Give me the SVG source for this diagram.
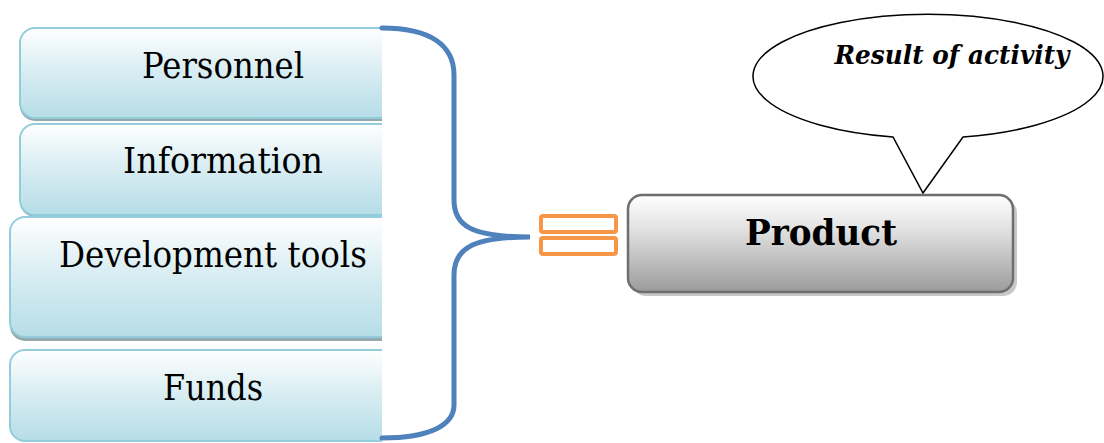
<svg xmlns="http://www.w3.org/2000/svg" width="1104" height="443" viewBox="0 0 1104 443">
  <defs>
    <linearGradient id="blueFill" x1="0" y1="0" x2="0" y2="1">
      <stop offset="0" stop-color="#ffffff"/>
      <stop offset="0.45" stop-color="#daeef3"/>
      <stop offset="1" stop-color="#b6dde7"/>
    </linearGradient>
    <linearGradient id="greyFill" x1="0" y1="0" x2="0" y2="1">
      <stop offset="0" stop-color="#ffffff"/>
      <stop offset="0.35" stop-color="#e2e2e2"/>
      <stop offset="1" stop-color="#9b9b9b"/>
    </linearGradient>
    <clipPath id="leftCut">
      <rect x="0" y="0" width="382" height="443"/>
    </clipPath>
  </defs>
  <style>
    .box { fill: url(#blueFill); stroke: #93cddd; stroke-width: 2; }
    .shadow { fill: #93a9ae; }
    .label { font-family: "DejaVu Serif", "Liberation Serif", serif; font-size: 35px; fill: #000; text-anchor: middle; }
    .title { font-family: "DejaVu Serif", "Liberation Serif", serif; font-size: 35px; font-weight: bold; fill: #000; text-anchor: middle; }
    .bubble-text { font-family: "DejaVu Serif", "Liberation Serif", serif; font-size: 26px; font-weight: bold; font-style: italic; fill: #000; text-anchor: middle; }
    .eq { fill: #ffffff; stroke: #f79646; stroke-width: 4; }
  </style>

  <rect width="1104" height="443" fill="#ffffff"/>

  <!-- resource boxes, cut off on the right by the brace -->
  <g clip-path="url(#leftCut)">
    <g id="personnel">
      <rect class="shadow" x="20" y="31" width="420" height="90" rx="15"/>
      <rect class="box" x="20" y="28" width="420" height="90" rx="15"/>
      <text class="label" x="223" y="78" textLength="162" lengthAdjust="spacingAndGlyphs">Personnel</text>
    </g>
    <g id="information">
      <rect class="shadow" x="20" y="127" width="420" height="90" rx="15"/>
      <rect class="box" x="20" y="124" width="420" height="91" rx="15"/>
      <text class="label" x="223" y="173" textLength="200" lengthAdjust="spacingAndGlyphs">Information</text>
    </g>
    <g id="development-tools">
      <rect class="shadow" x="10" y="221" width="420" height="120" rx="15"/>
      <rect class="box" x="10" y="217" width="420" height="120" rx="15"/>
      <text class="label" x="213" y="267" textLength="308" lengthAdjust="spacingAndGlyphs">Development tools</text>
    </g>
    <g id="funds">
      <rect class="box" x="10" y="350" width="420" height="91" rx="15"/>
      <text class="label" x="213" y="400" textLength="100" lengthAdjust="spacingAndGlyphs">Funds</text>
    </g>
  </g>

  <!-- brace, equals sign and callout tail -->
  <g id="connectors">
    <path d="M382,28 C430,28 454,45 454,75 L454,200 C454,225 470,237 530,237 C470,237 454,250 454,275 L454,405 C454,425 430,438 382,438" fill="none" stroke="#4f81bd" stroke-width="5" stroke-linecap="round"/>
    <rect class="eq" x="541" y="216" width="75" height="16" rx="2"/>
    <rect class="eq" x="541" y="238" width="75" height="16" rx="2"/>
  </g>

  <g id="result-of-activity">
    <path d="M893,137 A175,62 0 1 1 963,137 L923,193 Z" fill="#ffffff" stroke="#000" stroke-width="1.5" stroke-linejoin="miter"/>
    <text class="bubble-text" x="952" y="64" textLength="235" lengthAdjust="spacingAndGlyphs">Result of activity</text>
  </g>

  <g id="product">
    <rect x="632" y="199" width="385" height="97" rx="14" fill="#c8c8c8"/>
    <rect x="628" y="195" width="385" height="97" rx="14" fill="url(#greyFill)" stroke="#6e6e6e" stroke-width="2.5"/>
    <text class="title" x="821" y="245" textLength="152" lengthAdjust="spacingAndGlyphs">Product</text>
  </g>
</svg>
